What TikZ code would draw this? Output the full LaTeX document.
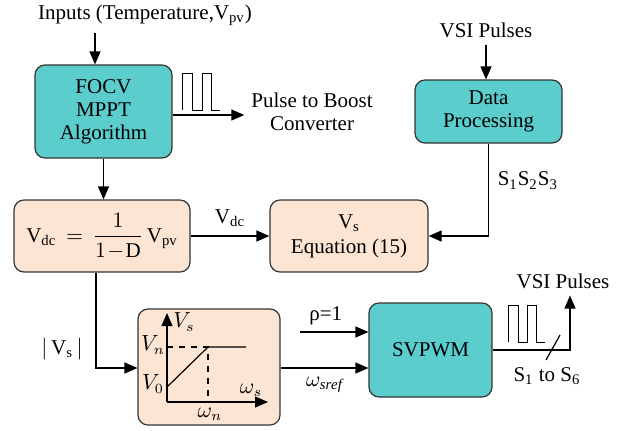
\documentclass[tikz,border=0pt]{standalone}
\usepackage{amsmath}
\usepackage{fontspec}
\setmainfont{Liberation Serif}
\usetikzlibrary{arrows.meta, positioning}

\begin{document}
\begin{tikzpicture}[x=0.5pt, y=-0.5pt, font=\fontsize{10.5}{11.5}\selectfont]

        % Setup the styles for the blocks and wires
        \tikzset{block/.style={draw=black!80, line width=0.6pt,
                               rounded corners=5pt, align=center,
                               inner sep=1pt},
                 tealblock/.style={block, fill=tealfill},
                 peachblock/.style={block, fill=peachfill},
                 wire/.style={line width=0.6pt},
                 arr/.style={wire, -{Triangle[length=6.5pt,width=5.5pt]}}}
        \definecolor{tealfill}{HTML}{5BCDCD}
        \definecolor{peachfill}{HTML}{FDE5D3}

\useasboundingbox (0,0) rectangle (624,430);

% Add the blocks
\node[tealblock, minimum width=68.5pt, minimum height=46.5pt] at (103.5,111.5) (focv) {FOCV\\MPPT\\Algorithm};

\node[tealblock, minimum width=73.5pt, minimum height=31.5pt] at (488.5,111.5) (dp) {Data\\Processing};

\node[peachblock, minimum width=88pt, minimum height=36pt] at (102,236) (vdc)
     {$\mathrm{V}_{\mathrm{dc}} \,=\, \dfrac{1}{1\!-\!\mathrm{D}}\,\mathrm{V}_{\mathrm{pv}}$};

\node[peachblock, minimum width=79pt, minimum height=36pt] at (349,236) (vs) {V\textsubscript{s}\\[1pt]Equation (15)};

\node[peachblock, minimum width=71pt, minimum height=58pt] at (209,367) (graph) {};

\node[tealblock, minimum width=61.5pt, minimum height=47pt] at (430.5,350) (svpwm) {SVPWM};

% Add the texts
\node at (145,15) (in) {Inputs (Temperature,V\textsubscript{pv})};
\node[align=center] at (312,112) (boost) {Pulse to Boost\\Converter};
\node at (486,30) (vsiin) {VSI Pulses};
\node at (563,281) (vsiout) {VSI Pulses};

% Add the wires
\draw[arr] (in.south -| 95,0) -- (95,0 |- focv.north);
\draw[arr] (focv.east |- 0,115) -- (boost.west |- 0,115);
\draw[arr] (focv.south) -- (focv.south |- vdc.north);
\draw[arr] (vdc.east) -- node[above=1pt] {V\textsubscript{dc}} (vs.west);
\draw[arr] (vsiin.south) -- (vsiin.south |- dp.north);
\draw[arr] (dp.south) -- (dp.south |- vs.east)
      node[pos=0.4, right=1pt] {S\textsubscript{1}S\textsubscript{2}S\textsubscript{3}} -- (vs.east);
\draw[arr] (vdc.south -| 96,0) -- (96,368)
      node[pos=0.8, left=3pt] {$\left|\,\mathrm{V}_{\mathrm{s}}\,\right|$} -- (graph.west |- 0,368);
\draw[arr] (300,332) node[above right=0pt and 1pt] {ρ=1} -- (svpwm.west |- 0,332);
\draw[arr] (graph.east |- 0,368) -- node[below=1pt] {$\omega_{\mathit{sref}}$} (svpwm.west |- 0,368);
\draw[arr] (svpwm.east) -- (570,350) -- (vsiout.south -| 570,0);
\draw[wire] (546,360) -- (560,335);
\node at (547,376) (s16) {S\textsubscript{1} to S\textsubscript{6}};

% Add the pulse trains
\draw[wire, line width=0.5pt] (182,110) -- (182,73) -- (192,73) -- (192,110) -- (202,110)
      -- (202,73) -- (211,73) -- (211,110) -- (220,110);
\draw[wire, line width=0.5pt] (508,342) -- (508,305) -- (518,305) -- (518,342) -- (527,342)
      -- (527,305) -- (536,305) -- (536,342) -- (545,342);

% Add the V/f curve
\draw[arr] (167,402) -- (167,313);
\draw[arr] (167,402) -- (268,402);
\draw[wire] (167,387) -- (208,347) -- (246,347);
\draw[wire, dashed] (167,347) -- (208,347) -- (208,402);
\node at (184,322) {$V_s$};
\node at (153,345) {$V_n$};
\node at (153,384) {$V_0$};
\node at (251,390) {$\omega_s$};
\node at (210,414) {$\omega_n$};
\end{tikzpicture}
\end{document}
